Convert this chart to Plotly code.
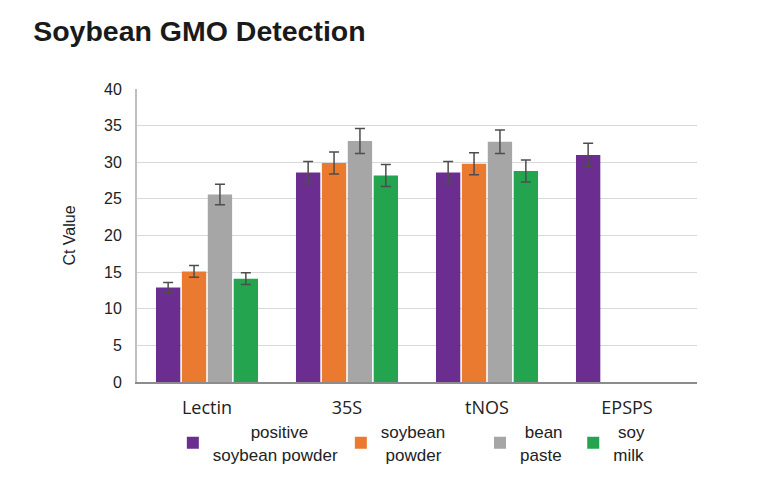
import plotly.graph_objects as go

# Ct values
genes = ["Lectin", "35S", "tNOS", "EPSPS"]
samples = [
    "\u00a0\u00a0\u00a0\u00a0\u00a0\u00a0\u00a0\u00a0positive<br>soybean powder",
    "soybean<br>\u00a0powder",
    "\u00a0bean<br>paste",
    "\u00a0soy<br>milk",
]
colors = ["#6b2e90", "#e97a30", "#a6a6a6", "#25a44f"]

positive_powder = [12.9, 28.6, 28.6, 31.0]
positive_powder_err = [0.7, 1.5, 1.5, 1.6]
soybean_powder = [15.1, 29.9, 29.8, None]
soybean_powder_err = [0.8, 1.5, 1.5, None]
bean_paste = [25.6, 32.9, 32.8, None]
bean_paste_err = [1.4, 1.7, 1.6, None]
soy_milk = [14.1, 28.2, 28.8, None]
soy_milk_err = [0.8, 1.5, 1.5, None]

values = [positive_powder, soybean_powder, bean_paste, soy_milk]
errors = [positive_powder_err, soybean_powder_err, bean_paste_err, soy_milk_err]

# one legend box per series so each entry sits where the original has it
legend_ids = ["legend2", "legend3", "legend4", "legend5"]
legend_x = [0.064, 0.364, 0.6125, 0.779]

fig = go.Figure()
for name, vals, errs, col, lg in zip(samples, values, errors, colors, legend_ids):
    fig.add_trace(go.Bar(
        x=genes, y=vals, name=name, legend=lg, showlegend=True,
        marker=dict(color=col, line=dict(width=0)),
        error_y=dict(type="data", array=errs, color="#4d4d4d", thickness=1.5, width=5),
    ))

legend_style = dict(orientation="h", xanchor="left", y=-0.11, yanchor="top",
                    font=dict(size=17, family="Liberation Sans, Arial, sans-serif", color="#222"),
                    itemwidth=30, valign="middle", bgcolor="rgba(0,0,0,0)")

fig.update_layout(
    width=762, height=480,
    paper_bgcolor="white", plot_bgcolor="white",
    margin=dict(l=129, r=73, t=81, b=106),
    barmode="group", bargap=0.26, bargroupgap=0.06,
    font=dict(family="Liberation Sans, Arial, sans-serif", color="#222222"),
    title=dict(text="<b>Soybean GMO Detection</b>", x=0.033, xanchor="left",
               y=0.952, yanchor="middle",
               font=dict(size=28.5, color="#1a1a1a")),
    xaxis=dict(showgrid=False, showline=True, linecolor="#8c8c8c", linewidth=2,
               ticks="", ticklabelstandoff=8,
               tickfont=dict(size=18, family="Open Sans, sans-serif", color="#222")),
    yaxis=dict(range=[0, 40], dtick=5, showgrid=True, gridcolor="#d9d9d9", gridwidth=1,
               zeroline=False, showline=True, linecolor="#bfbfbf", linewidth=2,
               ticks="", ticklabelstandoff=10, tickfont=dict(size=16, color="#222"),
               title=dict(text="Ct Value", font=dict(size=16, color="#222"), standoff=24)),
    legend2=dict(x=legend_x[0], **legend_style),
    legend3=dict(x=legend_x[1], **legend_style),
    legend4=dict(x=legend_x[2], **legend_style),
    legend5=dict(x=legend_x[3], **legend_style),
)

fig.write_html("out.html")
